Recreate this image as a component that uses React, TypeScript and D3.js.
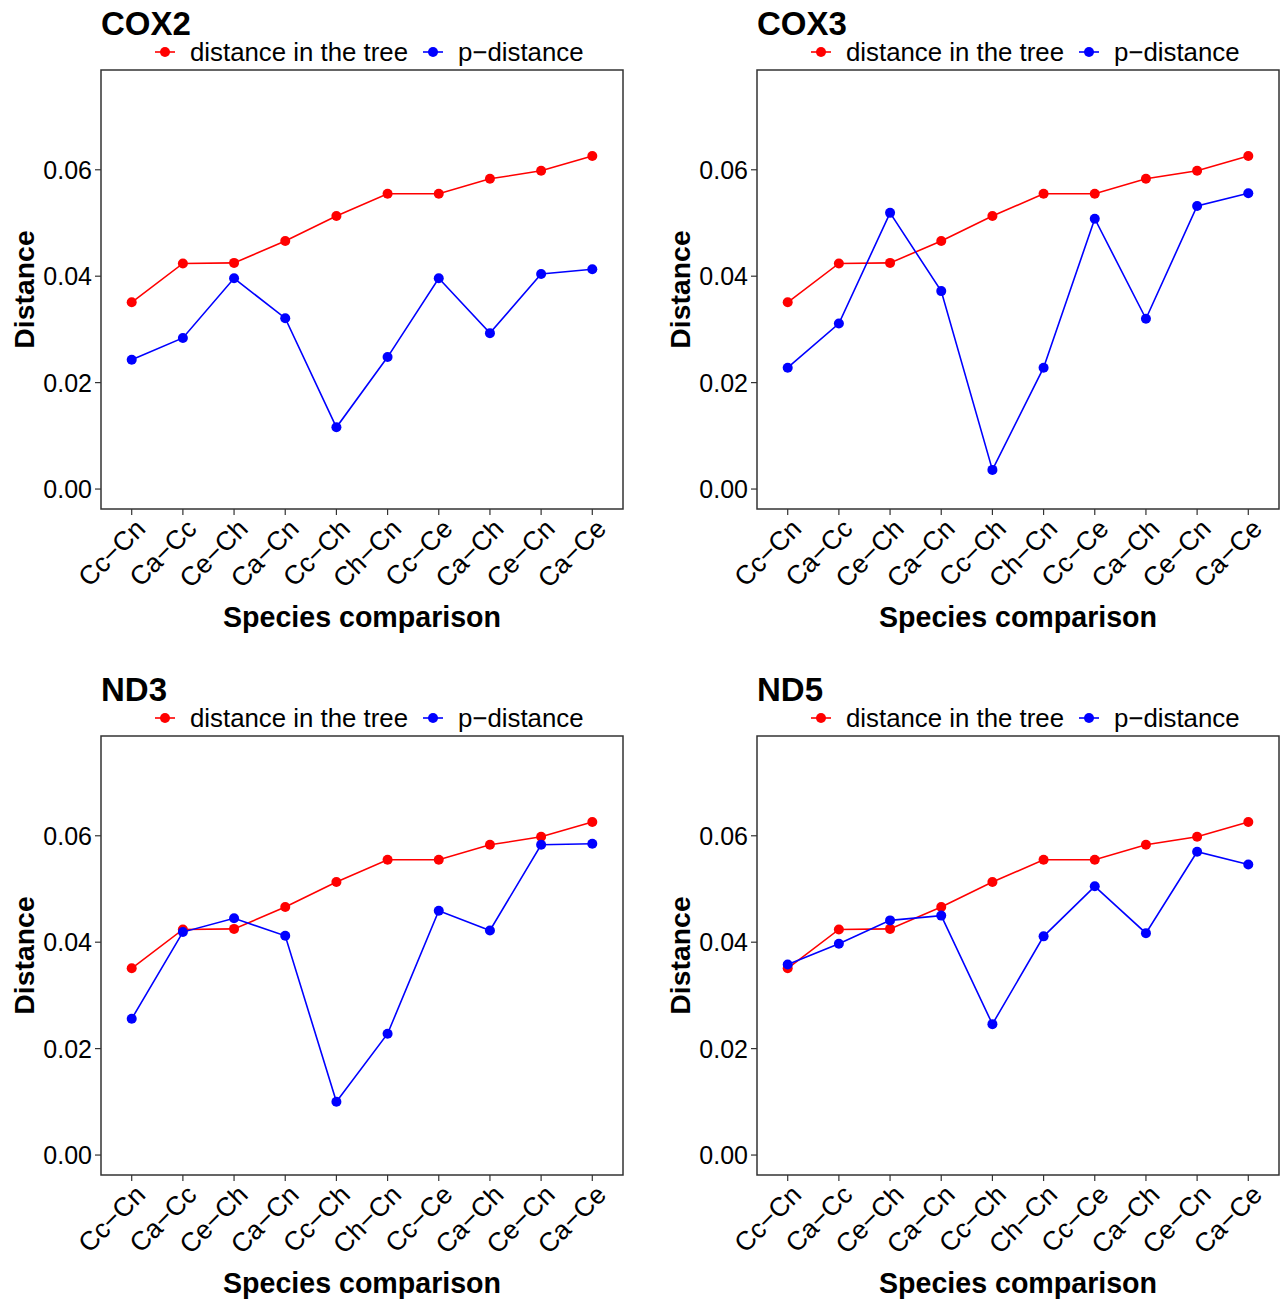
import React from "react";
import * as d3 from "d3";

const categories = ["Cc−Cn", "Ca−Cc", "Ce−Ch", "Ca−Cn", "Cc−Ch", "Ch−Cn", "Cc−Ce", "Ca−Ch", "Ce−Cn", "Ca−Ce"];
const treeDistance = [0.0351, 0.0424, 0.0425, 0.0466, 0.0513, 0.0555, 0.0555, 0.0583, 0.0598, 0.0626];
const cox2P = [0.0243, 0.0284, 0.0396, 0.0321, 0.0116, 0.0248, 0.0396, 0.0293, 0.0404, 0.0413];
const cox3P = [0.0228, 0.0311, 0.0519, 0.0372, 0.0036, 0.0228, 0.0508, 0.0320, 0.0532, 0.0556];
const nd3P = [0.0256, 0.0419, 0.0445, 0.0412, 0.0100, 0.0228, 0.0459, 0.0422, 0.0583, 0.0585];
const nd5P = [0.0358, 0.0397, 0.0441, 0.0450, 0.0246, 0.0411, 0.0505, 0.0417, 0.0570, 0.0546];
const yTicks = [0, 0.02, 0.04, 0.06];
const legendLabels = ["distance in the tree", "p−distance"];
const seriesColors = ["#FF0000", "#0000FF"];

const panels = [
  { title: "COX2", p: cox2P, col: 0, row: 0 },
  { title: "COX3", p: cox3P, col: 1, row: 0 },
  { title: "ND3", p: nd3P, col: 0, row: 1 },
  { title: "ND5", p: nd5P, col: 1, row: 1 },
];

const FONT = "'Liberation Sans', Arial, Helvetica, sans-serif";
const PW = 522;
const PH = 439;

function Panel({ title, p, ox, oy }: { title: string; p: number[]; ox: number; oy: number }) {
  const x = d3.scalePoint<string>().domain(categories).range([0, PW]).padding(0.6);
  const y = d3.scaleLinear().domain([-0.00375, 0.07875]).range([PH, 0]);
  const line = d3
    .line<number>()
    .x((_, i) => x(categories[i]) as number)
    .y((d) => y(d));
  const series = [treeDistance, p];
  return (
    <g transform={`translate(${ox},${oy})`}>
      <text x={0} y={-35} fontFamily={FONT} fontWeight="bold" fontSize={33} fill="#000">
        {title}
      </text>
      {[64, 332].map((lx, i) => (
        <g key={i}>
          <line x1={lx - 10} x2={lx + 10} y1={-18} y2={-18} stroke={seriesColors[i]} strokeWidth={1.6} />
          <circle cx={lx} cy={-18} r={5} fill={seriesColors[i]} />
          <text x={lx + 25} y={-9} fontFamily={FONT} fontSize={25.8} fill="#000">
            {legendLabels[i]}
          </text>
        </g>
      ))}
      {yTicks.map((t) => (
        <g key={t}>
          <line x1={-6} x2={0} y1={y(t)} y2={y(t)} stroke="#333" strokeWidth={1.2} />
          <text x={-9} y={y(t)} dy="0.36em" textAnchor="end" fontFamily={FONT} fontSize={25} fill="#000">
            {d3.format(".2f")(t)}
          </text>
        </g>
      ))}
      {categories.map((c) => (
        <g key={c}>
          <line x1={x(c)} x2={x(c)} y1={PH} y2={PH + 6} stroke="#333" strokeWidth={1.2} />
          <text
            transform={`translate(${(x(c) as number) + 2},${PH + 8}) rotate(-45)`}
            dy="0.71em"
            textAnchor="end"
            fontFamily={FONT}
            fontSize={26.5}
            fill="#000"
          >
            {c}
          </text>
        </g>
      ))}
      {series.map((s, i) => (
        <g key={i}>
          <path d={line(s) as string} fill="none" stroke={seriesColors[i]} strokeWidth={1.6} />
          {s.map((v, j) => (
            <circle key={j} cx={x(categories[j])} cy={y(v)} r={5} fill={seriesColors[i]} />
          ))}
        </g>
      ))}
      <rect x={0} y={0} width={PW} height={PH} fill="none" stroke="#333" strokeWidth={1.5} />
      <text x={PW / 2} y={PH + 118} textAnchor="middle" fontFamily={FONT} fontWeight="bold" fontSize={28.6} fill="#000">
        Species comparison
      </text>
      <text
        transform={`translate(${-67},${PH / 2}) rotate(-90)`}
        textAnchor="middle"
        fontFamily={FONT}
        fontWeight="bold"
        fontSize={28.4}
        fill="#000"
      >
        Distance
      </text>
    </g>
  );
}

export default function App() {
  return (
    <svg
      width={1288}
      height={1299}
      style={{ position: "absolute", left: 0, top: 0, display: "block", background: "#fff" }}
    >
      <rect width={1288} height={1299} fill="#fff" />
      {panels.map((pn) => (
        <Panel key={pn.title} title={pn.title} p={pn.p} ox={101 + pn.col * 656} oy={70 + pn.row * 666} />
      ))}
    </svg>
  );
}
